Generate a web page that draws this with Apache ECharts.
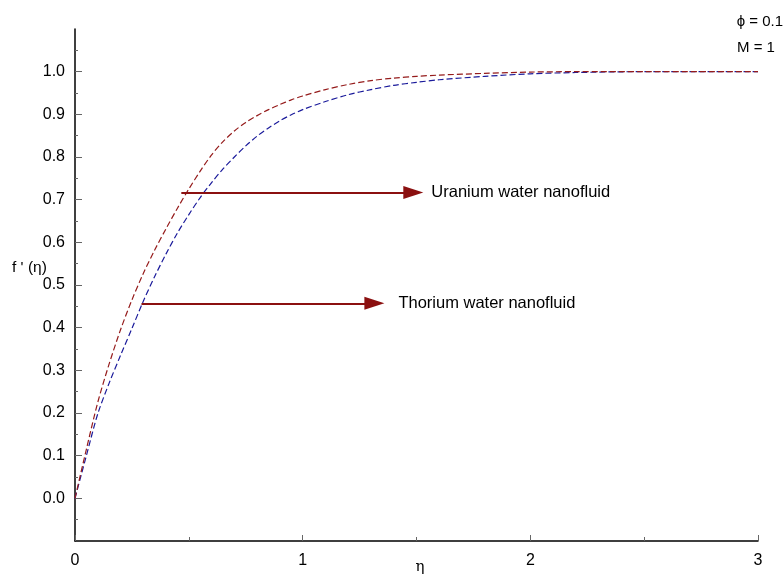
<!DOCTYPE html>
<html>
<head>
<meta charset="utf-8">
<script src="https://cdn.jsdelivr.net/npm/echarts@6/dist/echarts.min.js"></script>
<style>html,body{margin:0;padding:0;background:#fff}#c{width:783px;height:575px}</style>
</head>
<body>
<div id="c"></div>
<script>
var eta = [0,0.05,0.1,0.15,0.2,0.25,0.3,0.35,0.4,0.45,0.5,0.55,0.6,0.65,0.7,0.75,0.8,0.85,0.9,0.95,1.0,1.1,1.2,1.3,1.4,1.5,1.6,1.8,2.0,2.2,2.5,3.0];
var uranium = [0,0.115,0.225,0.315,0.395,0.465,0.527,0.582,0.632,0.68,0.725,0.767,0.805,0.836,0.861,0.881,0.897,0.911,0.923,0.934,0.943,0.958,0.97,0.979,0.985,0.989,0.992,0.996,0.999,1.0,1.0,1.0];
var thorium = [0,0.1,0.198,0.27,0.335,0.398,0.462,0.52,0.573,0.622,0.665,0.705,0.74,0.772,0.8,0.826,0.849,0.868,0.885,0.899,0.911,0.93,0.946,0.958,0.968,0.975,0.981,0.989,0.995,0.998,1.0,1.0];
var xTicks = [0,1,2,3];
var yTicks = [0,0.1,0.2,0.3,0.4,0.5,0.6,0.7,0.8,0.9,1.0];
var uraniumArrow = [[0.467,0.717],[1.486,0.717]];
var thoriumArrow = [[0.292,0.457],[1.315,0.457]];
var uraniumLabel = 'Uranium water nanofluid';
var thoriumLabel = 'Thorium water nanofluid';

function pairs(xs, ys){ return xs.map(function(x,i){ return [x, ys[i]]; }); }

var FONT = 'Liberation Sans, Arial, sans-serif';
var chart = echarts.init(document.getElementById('c'));
var arrowColor = '#8b1010';
function arrowLine(a, text, dist){
  return {
    silent: true,
    symbol: ['none','triangle'],
    symbolSize: [13, 20],
    lineStyle: {color: arrowColor, width: 2, type: 'solid'},
    itemStyle: {color: arrowColor},
    label: {show: true, position: 'end', formatter: text, color: '#000', fontSize: 16.5, fontFamily: FONT, distance: dist},
    emphasis: {disabled: true},
    animation: false,
    data: [[{coord: a[0]}, {coord: a[1]}]]
  };
}
chart.setOption({
  animation: false,
  grid: {left: 75, right: 25, top: 29, bottom: 34, containLabel: false, outerBoundsMode: 'none'},
  xAxis: {
    type: 'value', min: 0, max: 3, interval: 1,
    axisLine: {show: true, onZero: false, lineStyle: {color: '#000', width: 1.5}},
    axisTick: {show: true, inside: true, length: 6, lineStyle: {color: '#666'}},
    minorTick: {show: true, splitNumber: 2, length: 4, lineStyle: {color: '#666'}},
    splitLine: {show: false},
    axisLabel: {color: '#000', fontSize: 16, fontFamily: FONT, margin: 12,
      formatter: function(v){ return xTicks.indexOf(Math.round(v)) >= 0 ? String(Math.round(v)) : ''; }}
  },
  yAxis: {
    type: 'value', min: -0.1, max: 1.1, interval: 0.1,
    axisLine: {show: true, onZero: false, lineStyle: {color: '#000', width: 1.5}},
    axisTick: {show: true, inside: true, length: 7, customValues: yTicks, lineStyle: {color: '#666'}},
    minorTick: {show: true, splitNumber: 2, length: 3, lineStyle: {color: '#666'}},
    splitLine: {show: false},
    axisLabel: {color: '#000', fontSize: 16, fontFamily: FONT, margin: 10, customValues: yTicks,
      formatter: function(v){ return (Math.round(v*10)/10).toFixed(1); }}
  },
  graphic: [
    {type: 'text', left: 12, top: 260, style: {text: "f ' (η)", fontSize: 15.5, fontFamily: FONT, fill: '#000'}},
    {type: 'text', x: 420, y: 567, style: {text: 'η', fontSize: 15, fontFamily: 'DejaVu Serif, serif', fill: '#000', align: 'center', verticalAlign: 'middle'}},
    {type: 'text', right: 0, top: 14, style: {text: 'ϕ = 0.1', fontSize: 15, fontFamily: FONT, fill: '#000'}},
    {type: 'text', left: 737, top: 40, style: {text: 'M = 1', fontSize: 15, fontFamily: FONT, fill: '#000'}}
  ],
  series: [
    {
      name: 'Uranium water nanofluid', type: 'line', smooth: 0.3, symbol: 'none',
      lineStyle: {color: '#951b1b', width: 1.2, type: [6, 3]},
      data: pairs(eta, uranium), z: 3,
      markLine: arrowLine(uraniumArrow, uraniumLabel, 18)
    },
    {
      name: 'Thorium water nanofluid', type: 'line', smooth: 0.3, symbol: 'none',
      lineStyle: {color: '#1b1b9b', width: 1.2, type: [6, 3]},
      data: pairs(eta, thorium), z: 2,
      markLine: arrowLine(thoriumArrow, thoriumLabel, 24)
    }
  ]
});
</script>
</body>
</html>
